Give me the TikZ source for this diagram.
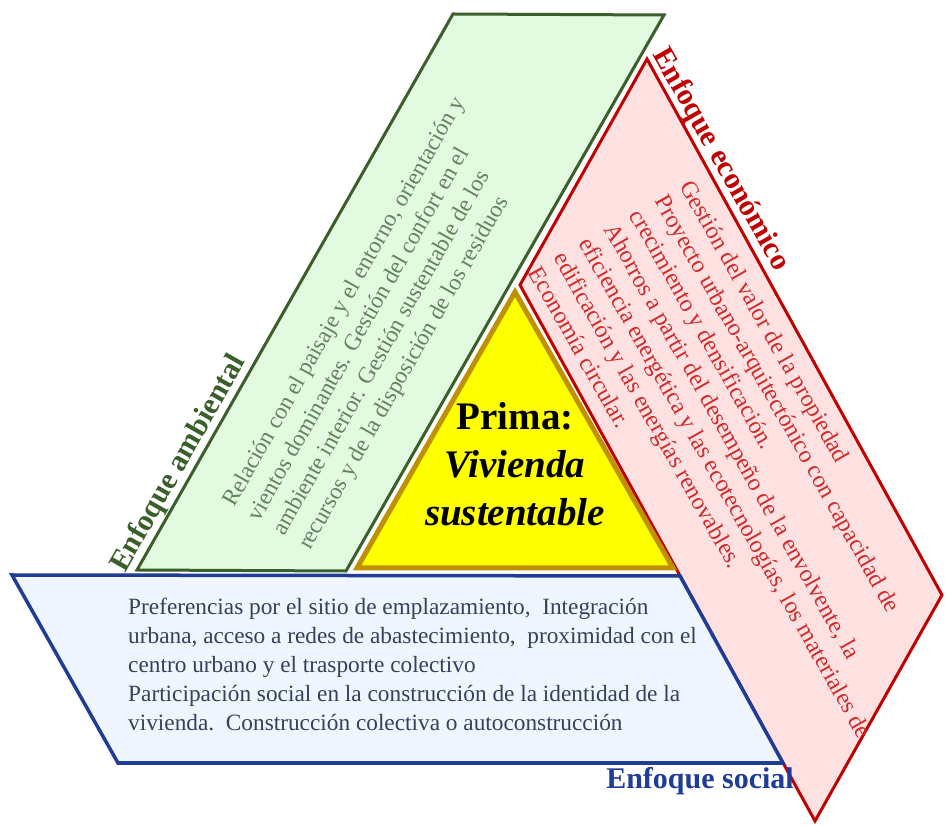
\documentclass[tikz,border=0pt]{standalone}
\usepackage{fontspec}
\setmainfont{Liberation Serif}

\definecolor{ambline}{HTML}{3A5F2A}
\definecolor{ambfill}{HTML}{E2FBE0}
\definecolor{ambtext}{HTML}{62845A}
\definecolor{ecoline}{HTML}{C00000}
\definecolor{ecofill}{HTML}{FFE1E2}
\definecolor{ecotext}{HTML}{D02A2A}
\definecolor{socline}{HTML}{1F3C96}
\definecolor{socfill}{HTML}{EFF6FF}
\definecolor{soctext}{HTML}{33405E}
\definecolor{primaline}{HTML}{BF9000}
\definecolor{primafill}{HTML}{FFFF00}

\begin{document}
\begin{tikzpicture}[x=1pt, y=1pt,
    zone/.style={line width=3pt, line join=miter},
    body/.style={inner sep=0pt, align=left, font=\fontsize{23.3}{29}\selectfont},
    heading/.style={inner sep=0pt, font=\fontsize{30}{34}\selectfont\bfseries}]
    \useasboundingbox (0,0) rectangle (948,825);

    % enfoque ambiental
    \coordinate (g1) at (137,255);
    \coordinate (g2) at (346,254);
    \coordinate (g3) at (664,810);
    \coordinate (g4) at (453,811);
    \draw[zone, draw=ambline, fill=ambfill] (g1) -- (g2) -- (g3) -- (g4) -- cycle;

    % enfoque economico
    \coordinate (r1) at (647,766);
    \coordinate (r2) at (942,230);
    \coordinate (r3) at (815,4);
    \coordinate (r4) at (520,540);
    \draw[zone, draw=ecoline, fill=ecofill] (r1) -- (r2) -- (r3) -- (r4) -- cycle;

    % enfoque social
    \coordinate (s1) at (12,250);
    \coordinate (s2) at (680,249);
    \coordinate (s3) at (783,62);
    \coordinate (s4) at (118,62);
    \draw[zone, line width=3.5pt, draw=socline, fill=socfill] (s1) -- (s2) -- (s3) -- (s4) -- cycle;

    % prima
    \coordinate (p1) at (515,533);
    \coordinate (p2) at (673,257);
    \coordinate (p3) at (357,257);
    \draw[line width=5pt, line join=miter, draw=primaline, fill=primafill] (p1) -- (p2) -- (p3) -- cycle;
    \node[font=\fontsize{39}{48}\selectfont\bfseries, align=center] (prima) at (515,361)
        {Prima:\\ \textit{Vivienda}\\ \textit{sustentable}};

    % textos
    \node[body, text=ambtext, rotate=60.4, anchor=north west] (ambtxt) at (220,325)
        {Relación con el paisaje y el entorno, orientación y\\
         vientos dominantes. Gestión del confort en el\\
         ambiente interior. Gestión sustentable de los\\
         recursos y de la disposición de los residuos};
    \node[body, text=ecotext, rotate=-60.5, anchor=north west, font=\fontsize{24}{29}\selectfont] (ecotxt) at (694,647)
        {Gestión del valor de la propiedad\\
         Proyecto urbano-arquitectónico con capacidad de\\
         crecimiento y densificación.\\
         Ahorros a partir del desempeño de la envolvente, la\\
         eficiencia energética y las ecotecnologías, los materiales de\\
         edificación y las energías renovables.\\
         Economía circular.};
    \node[body, text=soctext, anchor=north west] (soctxt) at (128,227)
        {Preferencias por el sitio de emplazamiento,\ \ Integración\\
         urbana, acceso a redes de abastecimiento,\ \ proximidad con el\\
         centro urbano y el trasporte colectivo\\
         Participación social en la construcción de la identidad de la\\
         vivienda.\ \ Construcción colectiva o autoconstrucción};

    % titulos
    \node[heading, text=ambline, rotate=60.4, anchor=base west] (amb) at (125,251) {Enfoque ambiental};
    \node[heading, text=ecoline, rotate=-60.5, anchor=base west] (eco) at (652,771) {Enfoque económico};
    \node[heading, text=socline, anchor=base east] (soc) at (794,37) {Enfoque social};
\end{tikzpicture}
\end{document}
